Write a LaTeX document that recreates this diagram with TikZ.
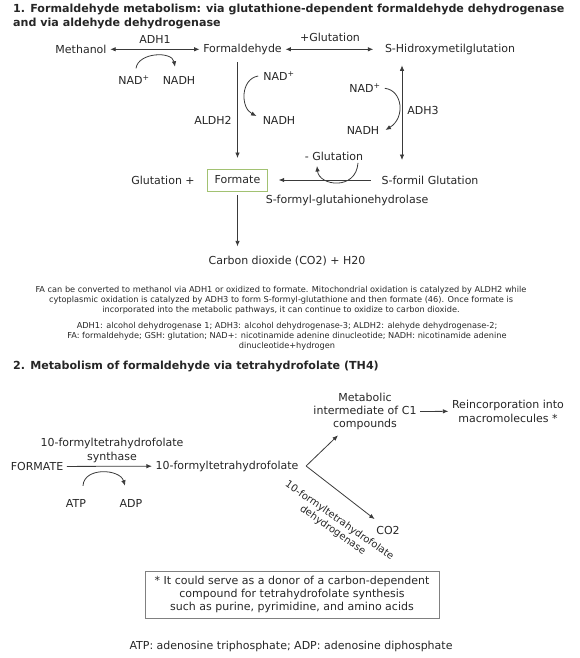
\documentclass[tikz,border=0pt]{standalone}
\usepackage{fontspec}
\setmainfont{DejaVu Sans}
\usetikzlibrary{arrows.meta,calc}
\definecolor{txtc}{HTML}{262626}
\definecolor{linec}{HTML}{3A3A3A}
\definecolor{boxgreen}{HTML}{A2C272}
\definecolor{boxgray}{HTML}{808080}
\begin{document}
\begin{tikzpicture}[x=1pt,y=-1pt,
  every node/.style={text=txtc, font=\fontsize{11}{13}\selectfont, inner sep=3.5pt},
  cof/.style={inner sep=1pt},
  captxt/.style={font=\fontsize{8.2}{10}\selectfont, align=center},
  ttl/.style={font=\bfseries\fontsize{11.1}{14}\selectfont, anchor=west, inner sep=0pt},
  arr/.style={draw=linec, line width=0.8pt, -{Latex[length=5.5pt,width=4.5pt]}},
  darr/.style={draw=linec, line width=0.8pt, {Latex[length=5.5pt,width=4.5pt]}-{Latex[length=5.5pt,width=4.5pt]}},
]
\useasboundingbox (0,0) rectangle (579,658);

% ---------- Section 1 ----------
\node[ttl] (t1) at (13,9) {1. Formaldehyde metabolism: via glutathione-dependent formaldehyde dehydrogenase};
\node[ttl] (t1b) at (13,23) {and via aldehyde dehydrogenase};

\node (meth) at (81,49.3) {Methanol};
\node (form) at (242.5,49.3) {Formaldehyde};
\node (shm) at (450,49.3) {S-Hidroxymetilglutation};
\node (adh1) at (155,39.5) {ADH1};
\node (glp) at (330,37) {+Glutation};
\draw[darr] (meth) -- (form);
\draw[darr, shorten >=8pt] (form) -- (shm);

\node[cof] (nad1) at (134,80) {NAD\textsuperscript{+}};
\node[cof] (nadh1) at (179,80) {NADH};
\draw[arr] ([xshift=2pt,yshift=6pt]nad1.north) .. controls +(2,-16) and +(-3,-16) .. ([xshift=-4pt,yshift=8pt]nadh1.north);

\node[cof] (nad2) at (279,76) {NAD\textsuperscript{+}};
\node[cof] (nadh2) at (279,120) {NADH};
\node (aldh2) at (213,120) {ALDH2};
\draw[arr] ([xshift=-4pt]nad2.west) .. controls +(-18,3) and +(-16,-8) .. ([xshift=-5pt,yshift=4pt]nadh2.west);

\node[cof] (nad3) at (365,88.3) {NAD\textsuperscript{+}};
\node[cof] (nadh3) at (363,130) {NADH};
\node (adh3) at (423,110) {ADH3};
\draw[arr] ([xshift=3pt]nad3.east) .. controls +(18,2) and +(20,-12) .. ([xshift=5pt]nadh3.east);

\node[draw=boxgreen, line width=0.9pt, inner xsep=7pt, minimum height=22pt] (formate) at (237.5,180) {Formate};
\node (glplus) at (163,180) {Glutation +};
\node (sfg) at (430,180) {S-formil Glutation};
\node (sfgh) at (347,200.7) {S-formyl-glutahionehydrolase};
\node (gm) at (334,156) {- Glutation};
\node (cdx) at (287,261) {Carbon dioxide (CO2) + H20};

\coordinate (rx) at (402,0);
\draw[darr, shorten <=7pt, shorten >=12pt] (shm.south -| rx) -- (sfg.north -| rx);
\draw[arr, shorten <=4pt, shorten >=10.5pt] (formate.north |- form.south) -- (formate.north);
\draw[arr, shorten <=7pt, shorten >=11pt] (sfg.west) -- (formate.east);
\draw[arr] ([xshift=24pt,yshift=1pt]gm.south) .. controls +(-2,28) and +(2,20) .. ([xshift=-17pt,yshift=-2pt]gm.south);
\draw[arr, shorten <=4pt, shorten >=6pt] (formate.south) -- (formate.south |- cdx.north);

\node[captxt] (para) at (281,300.5) {FA can be converted to methanol via ADH1 or oxidized to formate. Mitochondrial oxidation is catalyzed by ALDH2 while\\cytoplasmic oxidation is catalyzed by ADH3 to form S-formyl-glutathione and then formate (46). Once formate is\\incorporated into the metabolic pathways, it can continue to oxidize to carbon dioxide.};
\node[captxt] (leg) at (287,336.5) {ADH1: alcohol dehydrogenase 1; ADH3: alcohol dehydrogenase-3; ALDH2: alehyde dehydrogenase-2;\\FA: formaldehyde; GSH: glutation; NAD+: nicotinamide adenine dinucleotide; NADH: nicotinamide adenine\\dinucleotide+hydrogen};

% ---------- Section 2 ----------
\node[ttl] (t2) at (13,366.7) {2. Metabolism of formaldehyde via tetrahydrofolate (TH4)};

\node[align=center, font=\fontsize{11}{12.8}\selectfont] (metab) at (365,411.5) {Metabolic\\intermediate of C1\\compounds};
\node[align=center, font=\fontsize{11}{14}\selectfont] (reinc) at (508,411.3) {Reincorporation into\\macromolecules *};
\draw[arr] (metab.east) -- (reinc.west);

\node[align=center, font=\fontsize{11}{14}\selectfont] (fts) at (112,450.3) {10-formyltetrahydrofolate\\synthase};
\node (formate2) at (37,466.5) {FORMATE};
\node (ften) at (227,466) {10-formyltetrahydrofolate};
\draw[arr] (formate2) -- (ften);

\node[cof] (atp) at (76,503) {ATP};
\node[cof] (adp) at (131,503) {ADP};
\draw[arr] ([xshift=7pt,yshift=12pt]atp.north) .. controls +(1,-19) and +(-5,-17) .. ([xshift=-6pt,yshift=12pt]adp.north);

\coordinate (vtx) at ([xshift=4pt]ften.east);
\node (co2) at (388,530) {CO2};
\draw[arr] (vtx) -- ([xshift=-27pt,yshift=-2pt]metab.south);
\draw[arr] (vtx) -- ([xshift=2pt,yshift=3pt]co2.north west);
\node[rotate=-35, align=center, inner sep=0pt, font=\fontsize{10}{11.5}\selectfont] (fdh) at (336,525.5) {10-formyltetrahydrofolate\\dehydrogenase};

\node[draw=boxgray, line width=1pt, align=center, minimum width=294pt, minimum height=47pt, inner sep=3pt] (note) at (292,594.5) {* It could serve as a donor of a carbon-dependent\\compound for tetrahydrofolate synthesis\\such as purine, pyrimidine, and amino acids};

\node (abbr) at (291,646) {ATP: adenosine triphosphate; ADP: adenosine diphosphate};
\end{tikzpicture}
\end{document}
